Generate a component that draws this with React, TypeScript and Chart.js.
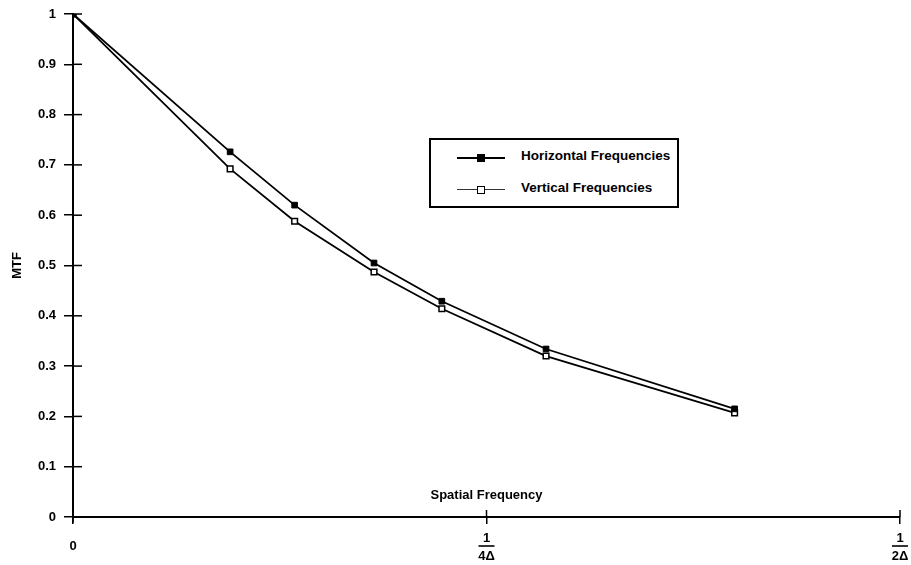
import React, { useEffect, useRef } from "react";
import { Chart, registerables } from "chart.js";

Chart.register(...registerables);

const spatialFrequency = [0, 0.095, 0.134, 0.182, 0.223, 0.286, 0.4];
const horizontalMTF = [1.0, 0.726, 0.62, 0.505, 0.429, 0.334, 0.215];
const verticalMTF = [1.0, 0.692, 0.588, 0.487, 0.414, 0.32, 0.207];
const xTickValues = [0, 0.25, 0.5];
const xTickLabels: (string | string[])[] = ["0", ["1", "4\u0394"], ["1", "2\u0394"]];
const seriesNames = ["Horizontal Frequencies", "Vertical Frequencies"];
const xAxisTitle = "Spatial Frequency";
const yAxisTitle = "MTF";

const FONT = "'Liberation Sans', Arial, Helvetica, sans-serif";

const decorPlugin = {
  id: "decor",
  afterDraw(chart: any) {
    const ctx = chart.ctx;
    const xs = chart.scales.x;
    const ys = chart.scales.y;
    const x0 = xs.getPixelForValue(0);
    const yb = ys.getPixelForValue(0);
    ctx.save();
    ctx.strokeStyle = "#000";
    ctx.lineWidth = 1.5;
    // inner halves of y ticks
    ys.ticks.forEach((t: any) => {
      const py = ys.getPixelForValue(t.value);
      ctx.beginPath();
      ctx.moveTo(x0, py);
      ctx.lineTo(x0 + 9, py);
      ctx.stroke();
    });
    // y axis stub below origin
    ctx.beginPath();
    ctx.moveTo(x0, yb);
    ctx.lineTo(x0, yb + 6);
    ctx.stroke();
    // inner halves of x ticks + fraction bars
    xTickValues.forEach((v) => {
      if (v === 0) return;
      const px = xs.getPixelForValue(v);
      ctx.lineWidth = 1.5;
      ctx.beginPath();
      ctx.moveTo(px, yb);
      ctx.lineTo(px, yb - 7);
      ctx.stroke();
      ctx.lineWidth = 1.6;
      ctx.beginPath();
      ctx.moveTo(px - 8, yb + 29);
      ctx.lineTo(px + 8, yb + 29);
      ctx.stroke();
    });
    // x axis title drawn above the axis
    ctx.fillStyle = "#000";
    ctx.font = "bold 13px " + FONT;
    ctx.textAlign = "center";
    ctx.textBaseline = "middle";
    ctx.fillText(xAxisTitle, xs.getPixelForValue(0.25), yb - 22);
    ctx.restore();
  },
};

export default function App() {
  const ref = useRef<HTMLCanvasElement | null>(null);
  useEffect(() => {
    document.body.style.margin = "0";
    const ctx = ref.current!.getContext("2d")!;
    const chart = new Chart(ctx, {
      type: "scatter",
      data: {
        datasets: [
          {
            label: seriesNames[0],
            data: spatialFrequency.map((x, i) => ({ x, y: horizontalMTF[i] })),
            showLine: true,
            borderColor: "#000",
            borderWidth: 1.8,
            pointStyle: "rect",
            pointRadius: 4,
            pointBackgroundColor: "#000",
            pointBorderColor: "#000",
            pointBorderWidth: 1,
          },
          {
            label: seriesNames[1],
            data: spatialFrequency.map((x, i) => ({ x, y: verticalMTF[i] })),
            showLine: true,
            borderColor: "#000",
            borderWidth: 1.8,
            pointStyle: "rect",
            pointRadius: 4,
            pointBackgroundColor: "#fff",
            pointBorderColor: "#000",
            pointBorderWidth: 1.5,
          },
        ],
      },
      options: {
        animation: false,
        responsive: false,
        maintainAspectRatio: false,
        layout: { padding: { top: 14, right: 11, left: 0, bottom: 0 } },
        plugins: {
          legend: { display: false },
          tooltip: { enabled: false },
        },
        scales: {
          x: {
            type: "linear",
            min: 0,
            max: 0.5,
            afterBuildTicks(scale: any) {
              scale.ticks = xTickValues.map((v) => ({ value: v }));
            },
            afterFit(scale: any) {
              scale.height = 48;
              scale.paddingLeft = 0;
              scale.paddingRight = 0;
            },
            ticks: {
              autoSkip: false,
              maxRotation: 0,
              padding: 6,
              color: "#000",
              font: (c: any) => ({
                family: FONT,
                size: 13,
                weight: "bold",
                lineHeight: c.tick && c.tick.value === 0 ? 2.5 : 1.35,
              }),
              callback: (v: any) => {
                const i = xTickValues.indexOf(Number(v));
                return i >= 0 ? xTickLabels[i] : "";
              },
            },
            grid: {
              drawOnChartArea: false,
              drawTicks: true,
              tickLength: 7,
              color: "#000",
              lineWidth: 1.5,
            },
            border: { display: true, color: "#000", width: 2 },
          },
          y: {
            min: 0,
            max: 1,
            afterFit(scale: any) {
              scale.width = 73;
              scale.paddingTop = 0;
              scale.paddingBottom = 0;
            },
            ticks: {
              stepSize: 0.1,
              padding: 8,
              color: "#000",
              font: { family: FONT, size: 13, weight: "bold" },
              callback: (v: any) => {
                const n = Number(v);
                if (Math.abs(n) < 1e-9) return "0";
                if (Math.abs(n - 1) < 1e-9) return "1";
                return n.toFixed(1);
              },
            },
            grid: {
              drawOnChartArea: false,
              drawTicks: true,
              tickLength: 9,
              color: "#000",
              lineWidth: 1.5,
            },
            border: { display: true, color: "#000", width: 2 },
            title: {
              display: true,
              text: yAxisTitle,
              color: "#000",
              font: { family: FONT, size: 13, weight: "bold" },
              padding: { top: 10, bottom: 0 },
            },
          },
        },
      },
      plugins: [decorPlugin],
    });
    return () => chart.destroy();
  }, []);

  const legendRow = (filled: boolean, text: string) => (
    <div style={{ position: "relative", height: 32 }}>
      <div
        style={{
          position: "absolute",
          left: 26,
          width: 48,
          top: 15,
          borderTop: filled ? "2px solid #000" : "1.5px solid #333",
        }}
      />
      <div
        style={{
          position: "absolute",
          left: 46,
          top: 12,
          width: 6,
          height: 6,
          border: "1.5px solid #000",
          background: filled ? "#000" : "#fff",
        }}
      />
      <div
        style={{
          position: "absolute",
          left: 90,
          top: 6,
          font: "bold 13.5px " + FONT,
          color: "#000",
          whiteSpace: "nowrap",
        }}
      >
        {text}
      </div>
    </div>
  );

  return (
    <div style={{ position: "relative", width: 911, height: 565, background: "#fff" }}>
      <canvas ref={ref} width={911} height={565} style={{ display: "block" }} />
      <div
        style={{
          position: "absolute",
          left: 429,
          top: 138,
          width: 246,
          height: 64,
          border: "2px solid #000",
          background: "#fff",
          paddingTop: 2,
          boxSizing: "content-box",
        }}
      >
        {legendRow(true, seriesNames[0])}
        {legendRow(false, seriesNames[1])}
      </div>
    </div>
  );
}
